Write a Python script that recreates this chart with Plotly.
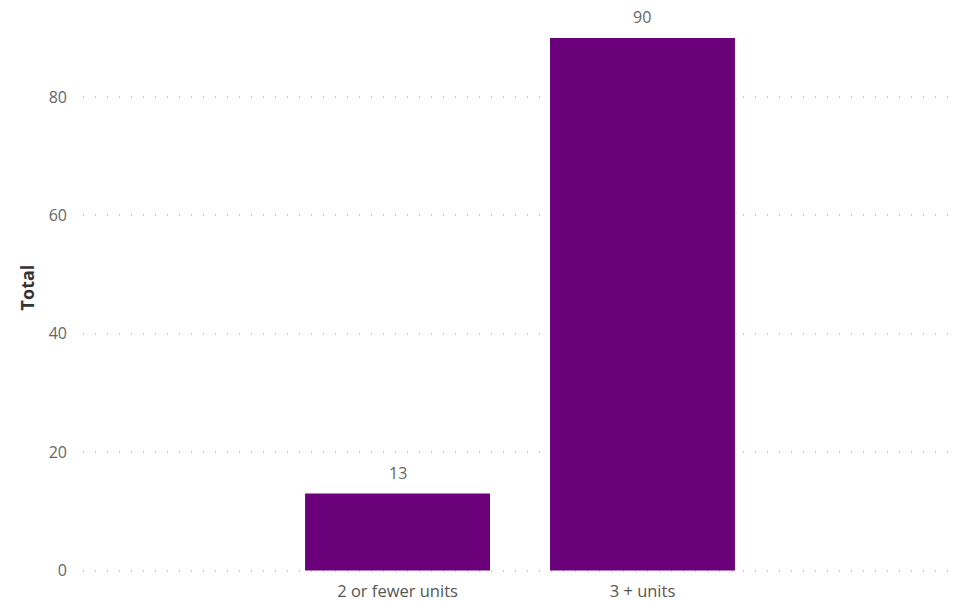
import plotly.graph_objects as go

categories = ["2 or fewer units", "3 + units"]
totals = [13, 90]
y_ticks = [0, 20, 40, 60, 80]

FONT = "Segoe UI, Open Sans, Noto Sans, sans-serif"

fig = go.Figure(go.Bar(
    x=categories,
    y=totals,
    marker=dict(color="#6B007B", line=dict(width=0)),
    width=0.755,
    hoverinfo="x+y",
))

for c, v in zip(categories, totals):
    fig.add_annotation(
        x=c, y=v, text=str(v), showarrow=False,
        yanchor="bottom", yshift=8,
        font=dict(family=FONT, size=16, color="#666666"),
    )

fig.update_layout(
    width=958, height=601,
    margin=dict(l=83, r=0, t=3, b=28.5, autoexpand=False),
    paper_bgcolor="white",
    plot_bgcolor="white",
    showlegend=False,
    font=dict(family=FONT, size=16, color="#666666"),
)
fig.update_xaxes(
    range=[-1.284, 2.288],
    showgrid=False, zeroline=False, showline=False,
    ticks="", tickfont=dict(size=16.5, color="#555555"),
    ticklabelstandoff=7,
    automargin=False,
)
fig.update_yaxes(
    range=[-0.25, 95.9],
    tickvals=y_ticks,
    showgrid=True, gridcolor="#c8c8c8", griddash="1px,11px", gridwidth=1.5,
    zeroline=False, showline=False, ticks="",
    tickfont=dict(size=16, color="#666666"),
    ticklabelstandoff=15,
    automargin=False,
    title=dict(text="<b>Total</b>", font=dict(size=18, color="#333333"), standoff=9),
)

fig.write_html(
    "out.html",
    config={"displayModeBar": False},
    post_script="document.body.style.margin='0';document.body.style.padding='0';",
)
